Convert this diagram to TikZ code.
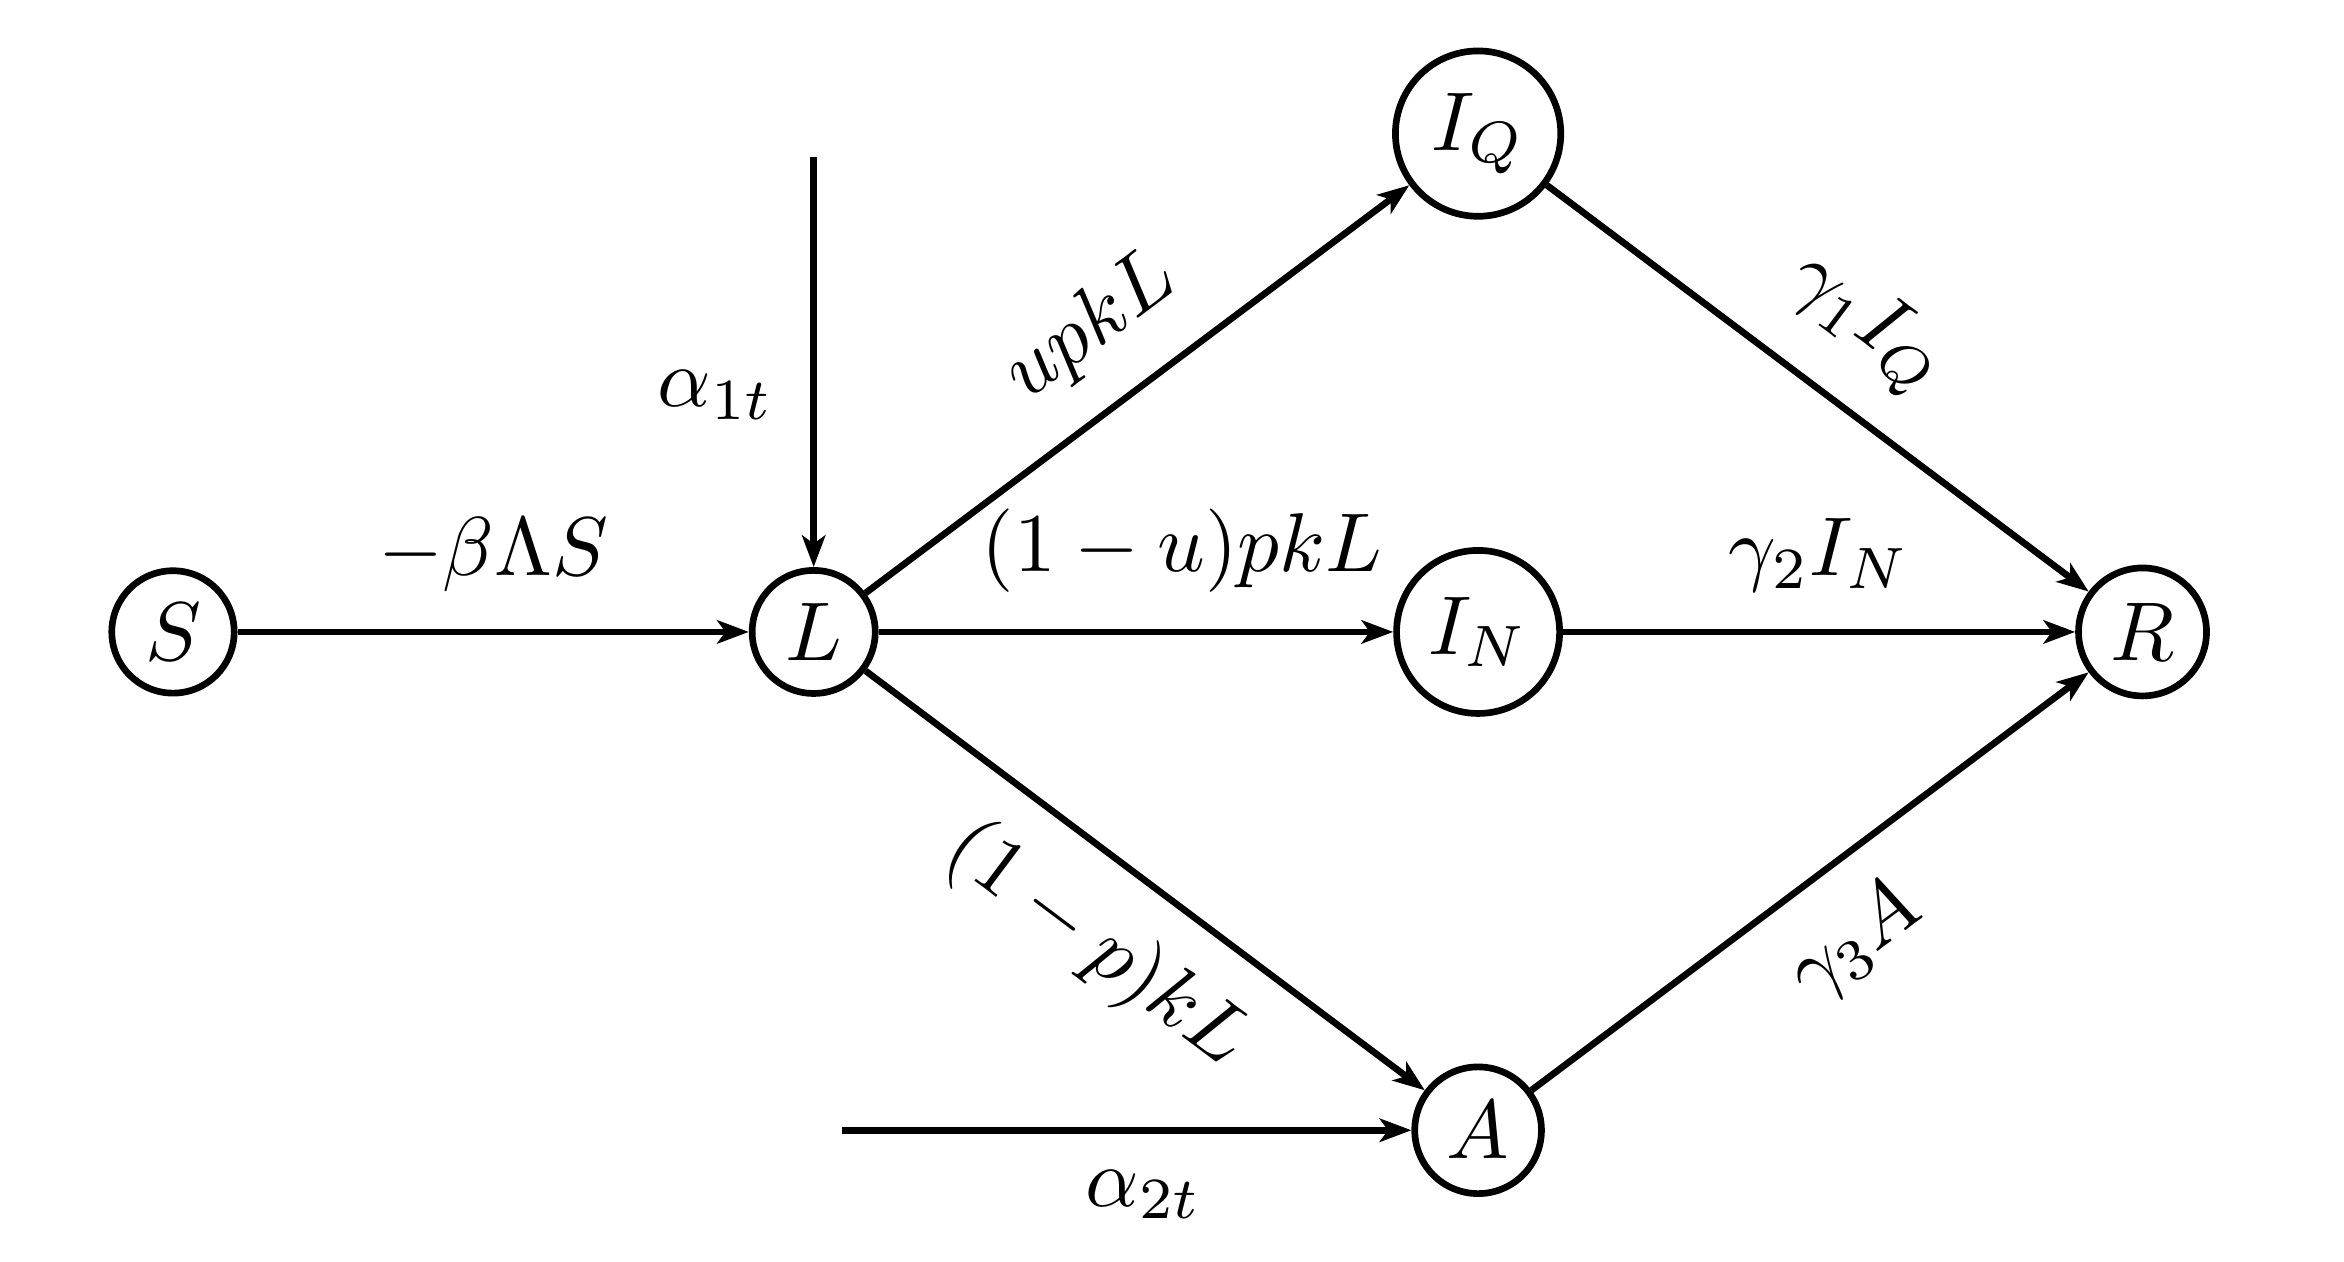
\documentclass[tikz,border=0pt]{standalone}
\usetikzlibrary{arrows.meta}
\tikzset{
  state/.style={circle, draw, thick, inner sep=1.8pt},
  flow/.style={thick, -{Stealth[length=3.8pt, width=2.8pt, inset=1pt]}},
  rate/.style={inner sep=4.4pt}
}
\begin{document}
\begin{tikzpicture}
  \useasboundingbox (-0.729,-2.655) rectangle (9.149,2.663);
  \node[state] (S) at (0,0) {$S$};
  \node[state] (L) at (2.7,0) {$L$};
  \node[state] (IQ) at (5.5,2.1) {$I_Q$};
  \node[state] (IN) at (5.5,0) {$I_N$};
  \node[state] (A) at (5.5,-2.1) {$A$};
  \node[state] (R) at (8.3,0) {$R$};
  \coordinate (a1) at (2.7,2);
  \coordinate (a2) at (2.82,-2.1);

  \draw[flow] (S) -- node[rate, above] {$-\beta\Lambda S$} (L);
  \draw[flow] (a1) -- node[rate, left, pos=0.58] {$\alpha_{1t}$} (L);
  \draw[flow] (a2) -- node[rate, below, pos=0.53] {$\alpha_{2t}$} (A);

  \draw[flow] (L) -- node[rate, midway, above, sloped] {$upkL$} (IQ);
  \draw[flow] (L) -- node[rate, above, pos=0.59] {$(1-u)pkL$} (IN);
  \draw[flow] (L) -- node[rate, midway, below, sloped] {$(1-p)kL$} (A);

  \draw[flow] (IQ) -- node[rate, midway, above, sloped] {$\gamma_1 I_Q$} (R);
  \draw[flow] (IN) -- node[rate, midway, above] {$\gamma_2 I_N$} (R);
  \draw[flow] (A) -- node[rate, midway, below, sloped] {$\gamma_3 A$} (R);
\end{tikzpicture}
\end{document}
